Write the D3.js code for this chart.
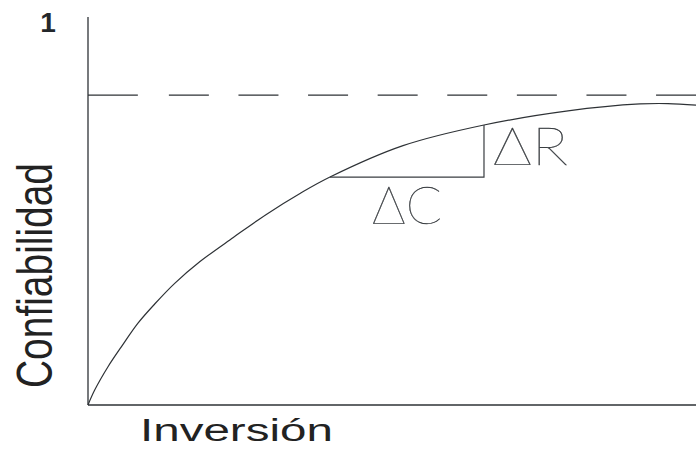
<!DOCTYPE html>
<html>
<head>
<meta charset="utf-8">
<script src="https://cdn.jsdelivr.net/npm/d3@7"></script>
<style>
  html, body { margin: 0; padding: 0; background: #fff; }
  svg { display: block; }
</style>
</head>
<body>
<svg id="chart" width="696" height="451"></svg>
<script>
// Inversión (0–100) vs. confiabilidad (0–1)
const inversion      = [0, 1.10, 3.29, 5.48, 8.22, 10.97, 14.26, 18.42, 23.90, 29.39, 34.87, 39.80, 51.81, 65.13, 78.95, 90.79, 95.39, 100];
const confiabilidad  = [0, 0.039, 0.100, 0.152, 0.214, 0.264, 0.318, 0.375, 0.438, 0.499, 0.553, 0.596, 0.678, 0.732, 0.769, 0.787, 0.788, 0.784];
const yTicks         = [1];
const asymptote      = 0.81;            // dashed reference level
const stepX          = [39.80, 65.13];  // ΔC: horizontal run
const stepY          = [0.596, 0.732];  // ΔR: vertical rise
const labels         = { deltaC: "ΔC", deltaR: "ΔR", x: "Inversión", y: "Confiabilidad" };

const svg = d3.select("#chart");
const m = { left: 88, right: 696, top: 17, bottom: 405 };

const x = d3.scaleLinear().domain([0, 100]).range([m.left, m.right]);
const y = d3.scaleLinear().domain([0, 1]).range([m.bottom, 22.5]);

const ink = "#2e3236";

// axes
svg.append("line")
  .attr("x1", m.left).attr("x2", m.left)
  .attr("y1", m.top).attr("y2", m.bottom)
  .attr("stroke", ink).attr("stroke-width", 1.3);
svg.append("line")
  .attr("x1", m.left).attr("x2", m.right)
  .attr("y1", m.bottom).attr("y2", m.bottom)
  .attr("stroke", ink).attr("stroke-width", 1.3);

// tick label on the y axis
svg.selectAll("text.ytick").data(yTicks).enter().append("text")
  .attr("class", "ytick")
  .attr("x", 48).attr("y", d => y(d))
  .attr("text-anchor", "middle")
  .attr("dominant-baseline", "central")
  .attr("font-family", "Liberation Sans, Arial, sans-serif")
  .attr("font-weight", "bold")
  .attr("font-size", 28)
  .attr("fill", "#23272b")
  .text(d => d3.format("d")(d));

// dashed asymptote: a longer first dash from the axis, then a regular pattern
svg.append("line")
  .attr("x1", m.left).attr("x2", x(8.2))
  .attr("y1", y(asymptote)).attr("y2", y(asymptote))
  .attr("stroke", ink).attr("stroke-width", 1.2);
svg.append("line")
  .attr("x1", x(13.3)).attr("x2", m.right)
  .attr("y1", y(asymptote)).attr("y2", y(asymptote))
  .attr("stroke", ink).attr("stroke-width", 1.2)
  .attr("stroke-dasharray", "40 29.6");

// reliability curve
const line = d3.line()
  .x((d, i) => x(inversion[i]))
  .y(d => y(d))
  .curve(d3.curveCatmullRom.alpha(0.5));
svg.append("path")
  .attr("d", line(confiabilidad))
  .attr("fill", "none")
  .attr("stroke", ink)
  .attr("stroke-width", 1.2);

// ΔC / ΔR step
svg.append("path")
  .attr("d", `M${x(stepX[0])},${y(stepY[0])}H${x(stepX[1])}V${y(stepY[1])}`)
  .attr("fill", "none")
  .attr("stroke", "#3a3e42")
  .attr("stroke-width", 1.2);

const glyphFont = "Lato, 'Noto Sans', sans-serif";
svg.append("text")
  .attr("x", 372).attr("y", 224)
  .attr("font-family", glyphFont)
  .attr("font-weight", 100)
  .attr("font-size", 51)
  .attr("fill", "#3a3e42")
  .attr("stroke", "#3a3e42").attr("stroke-width", 0.4)
  .attr("textLength", 70).attr("lengthAdjust", "spacingAndGlyphs")
  .text(labels.deltaC);
svg.append("text")
  .attr("x", 493).attr("y", 165)
  .attr("font-family", glyphFont)
  .attr("font-weight", 100)
  .attr("font-size", 51)
  .attr("fill", "#3a3e42")
  .attr("stroke", "#3a3e42").attr("stroke-width", 0.4)
  .attr("textLength", 75).attr("lengthAdjust", "spacingAndGlyphs")
  .text(labels.deltaR);

// x title: glyphs widened horizontally to span 193px
const xTitle = svg.append("text")
  .attr("x", 0).attr("y", 0)
  .attr("font-family", "Liberation Sans, Arial, sans-serif")
  .attr("font-size", 31)
  .attr("fill", "#222")
  .text(labels.x);
const natural = xTitle.node().getComputedTextLength();
xTitle.attr("transform", `translate(140,440.5) scale(${193 / natural},1)`);

// y title
svg.append("text")
  .attr("transform", "translate(51.5,388) rotate(-90)")
  .attr("font-family", "Liberation Sans, Arial, sans-serif")
  .attr("font-size", 50)
  .attr("fill", "#222")
  .attr("textLength", 225).attr("lengthAdjust", "spacingAndGlyphs")
  .text(labels.y);
</script>
</body>
</html>
